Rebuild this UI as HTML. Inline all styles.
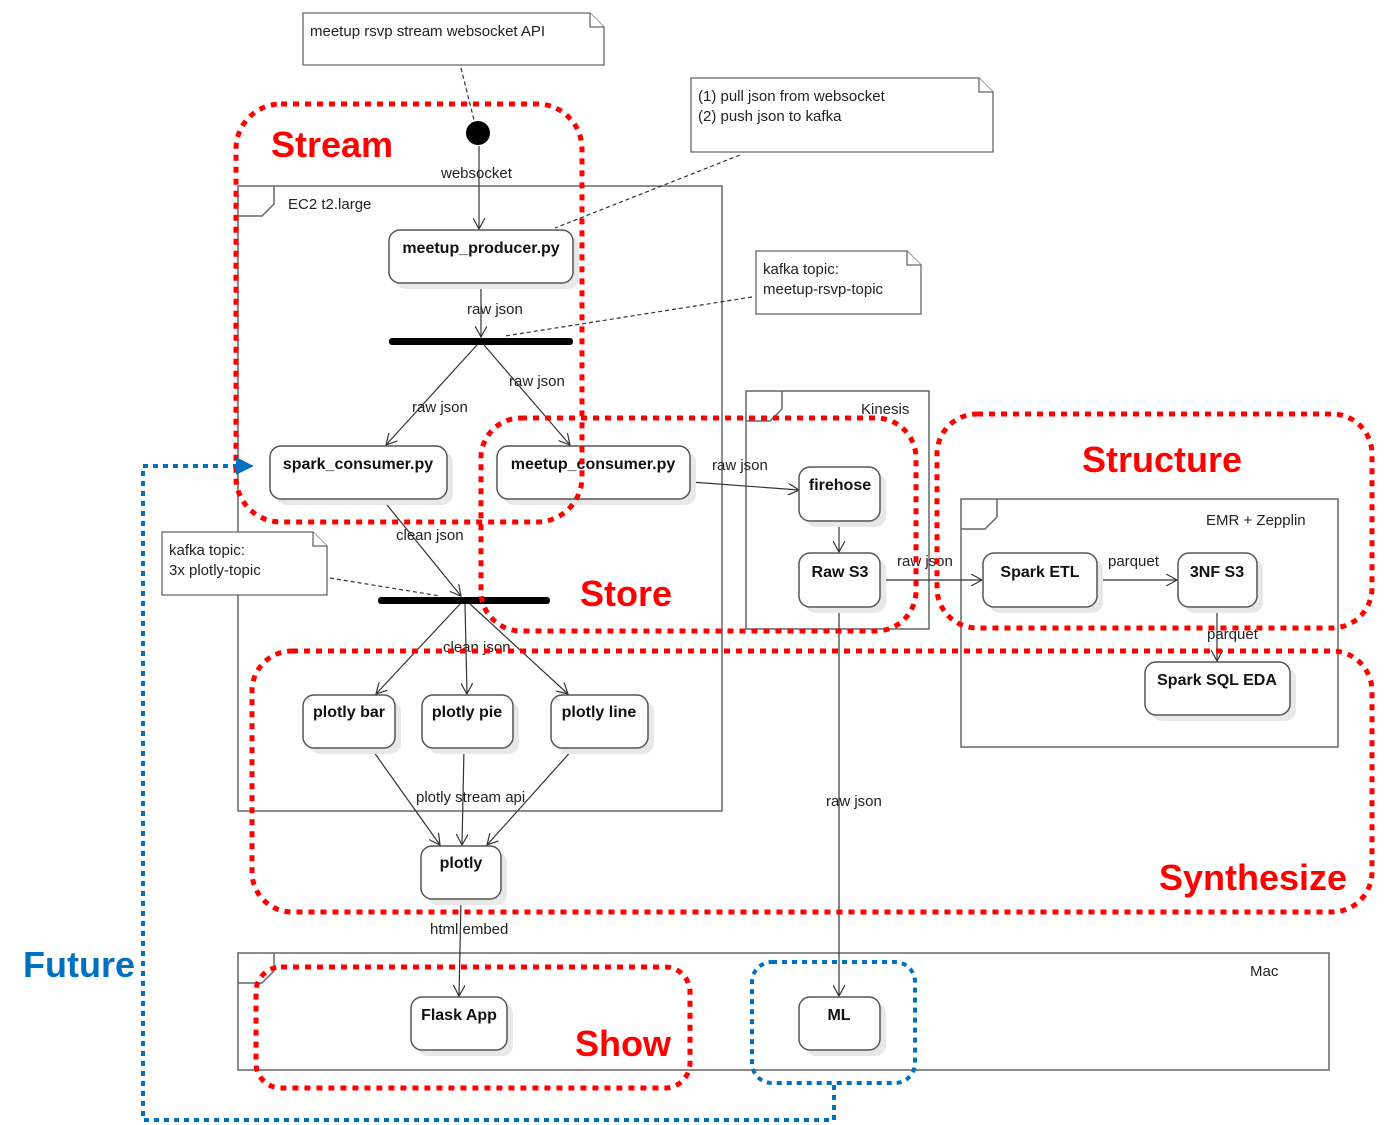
<!DOCTYPE html>
<html><head><style>body{margin:0;background:#fff}svg{display:block}</style></head><body>
<svg width="1394" height="1125" viewBox="0 0 1394 1125" xmlns="http://www.w3.org/2000/svg" font-family="Liberation Sans, Arial, sans-serif">
<defs>
<marker id="a" viewBox="0 0 12 12" refX="11" refY="6" markerWidth="12" markerHeight="12" markerUnits="userSpaceOnUse" orient="auto"><path d="M0,0 L11,6 L0,12" fill="none" stroke="#333" stroke-width="1.2"/></marker>
<marker id="b" viewBox="0 0 10 10" refX="9" refY="5" markerWidth="18" markerHeight="18" markerUnits="userSpaceOnUse" orient="auto"><path d="M0,0 L10,5 L0,10 z" fill="#0070c0"/></marker>
</defs>
<g fill="none" stroke="#666" stroke-width="1.5">
<rect x="238" y="186" width="484" height="625"/><path d="M238,216 h24 l12,-12 v-18"/>
<rect x="746" y="391" width="183" height="238"/><path d="M746,421 h24 l12,-12 v-18"/>
<rect x="961" y="499" width="377" height="248"/><path d="M961,529 h24 l12,-12 v-18"/>
<rect x="238" y="953" width="1091" height="117"/><path d="M238,983 h24 l12,-12 v-18"/>
</g>
<g fill="#fff" stroke="#666" stroke-width="1.3">
<path d="M303,13 H590 L604,27 V65 H303 Z"/><path d="M590,13 V27 H604"/>
<path d="M691,78 H979 L993,92 V152 H691 Z"/><path d="M979,78 V92 H993"/>
<path d="M756,251 H907 L921,265 V314 H756 Z"/><path d="M907,251 V265 H921"/>
<path d="M162,532 H313 L327,546 V595 H162 Z"/><path d="M313,532 V546 H327"/>
</g>
<g font-size="15" fill="#222">
<text x="310" y="36">meetup rsvp stream websocket API</text>
<text x="698" y="101">(1) pull json from websocket</text>
<text x="698" y="121">(2) push json to kafka</text>
<text x="763" y="274">kafka topic:</text><text x="763" y="294">meetup-rsvp-topic</text>
<text x="169" y="555">kafka topic:</text><text x="169" y="575">3x plotly-topic</text>
<text x="288" y="209">EC2 t2.large</text>
<text x="861" y="414">Kinesis</text>
<text x="1206" y="525">EMR + Zepplin</text>
<text x="1250" y="976">Mac</text>
</g>
<g fill="none" stroke="#333" stroke-width="1.2" stroke-dasharray="4,3">
<path d="M461,68 L474,120"/><path d="M740,155 L555,228"/><path d="M752,297 L505,336"/><path d="M330,578 L440,596"/>
</g>
<circle cx="478" cy="133" r="12" fill="#000"/>
<rect x="389" y="338" width="184" height="7" rx="3" fill="#000"/>
<rect x="378" y="597" width="172" height="7" rx="3" fill="#000"/>
<g fill="none" stroke="#333" stroke-width="1.2" marker-end="url(#a)">
<path d="M479,146 V229"/><path d="M481,284 V337"/>
<path d="M477,345 L386,445"/><path d="M484,345 L570,445"/>
<path d="M691,482 L799,490"/><path d="M839,522 V552"/>
<path d="M880,580 H982"/><path d="M1097,580 H1177"/><path d="M1217,608 V661"/>
<path d="M383,500 L461,596"/>
<path d="M460,604 L376,694"/><path d="M465,604 L467,694"/><path d="M470,604 L568,694"/>
<path d="M371,748 L440,845"/><path d="M464,748 L462,845"/><path d="M574,748 L487,845"/>
<path d="M461,900 L459,996"/><path d="M839,608 V996"/>
</g>
<g font-size="15" fill="#222">
<text x="441" y="178">websocket</text><text x="467" y="314">raw json</text>
<text x="412" y="412">raw json</text><text x="509" y="386">raw json</text>
<text x="712" y="470">raw json</text><text x="897" y="566">raw json</text>
<text x="1108" y="566">parquet</text><text x="1207" y="639">parquet</text>
<text x="396" y="540">clean json</text><text x="443" y="652">clean json</text>
<text x="416" y="802">plotly stream api</text><text x="826" y="806">raw json</text>
<text x="430" y="934">html embed</text>
</g>
<g>
<g fill="#e8e8e8">
<rect x="395" y="236" width="184" height="53" rx="11"/><rect x="276" y="452" width="177" height="53" rx="11"/>
<rect x="503" y="452" width="193" height="53" rx="11"/><rect x="805" y="473" width="81" height="54" rx="11"/>
<rect x="805" y="559" width="81" height="54" rx="11"/><rect x="989" y="559" width="114" height="54" rx="11"/>
<rect x="1184" y="559" width="79" height="54" rx="11"/><rect x="1151" y="668" width="145" height="53" rx="11"/>
<rect x="309" y="701" width="92" height="53" rx="11"/><rect x="428" y="701" width="91" height="53" rx="11"/>
<rect x="557" y="701" width="97" height="53" rx="11"/><rect x="427" y="852" width="80" height="53" rx="11"/>
<rect x="417" y="1003" width="96" height="53" rx="11"/><rect x="805" y="1003" width="81" height="53" rx="11"/>
</g>
<g fill="#fff" stroke="#555" stroke-width="1.5">
<rect x="389" y="230" width="184" height="53" rx="11"/><rect x="270" y="446" width="177" height="53" rx="11"/>
<rect x="497" y="446" width="193" height="53" rx="11"/><rect x="799" y="467" width="81" height="54" rx="11"/>
<rect x="799" y="553" width="81" height="54" rx="11"/><rect x="983" y="553" width="114" height="54" rx="11"/>
<rect x="1178" y="553" width="79" height="54" rx="11"/><rect x="1145" y="662" width="145" height="53" rx="11"/>
<rect x="303" y="695" width="92" height="53" rx="11"/><rect x="422" y="695" width="91" height="53" rx="11"/>
<rect x="551" y="695" width="97" height="53" rx="11"/><rect x="421" y="846" width="80" height="53" rx="11"/>
<rect x="411" y="997" width="96" height="53" rx="11"/><rect x="799" y="997" width="81" height="53" rx="11"/>
</g>
<g font-size="16" font-weight="bold" fill="#111" text-anchor="middle">
<text x="481" y="253">meetup_producer.py</text><text x="358" y="469">spark_consumer.py</text>
<text x="593" y="469">meetup_consumer.py</text><text x="840" y="490">firehose</text>
<text x="840" y="577">Raw S3</text><text x="1040" y="577">Spark ETL</text>
<text x="1217" y="577">3NF S3</text><text x="1217" y="685">Spark SQL EDA</text>
<text x="349" y="717">plotly bar</text><text x="467" y="717">plotly pie</text>
<text x="599" y="717">plotly line</text><text x="461" y="868">plotly</text>
<text x="459" y="1020">Flask App</text><text x="839" y="1020">ML</text>
</g>
</g>
<g fill="none" stroke="#f00" stroke-width="5" stroke-dasharray="6,6">
<rect x="236" y="104" width="346" height="418" rx="45"/>
<rect x="481" y="418" width="435" height="213" rx="40"/>
<rect x="937" y="414" width="435" height="214" rx="40"/>
<rect x="252" y="651" width="1120" height="261" rx="40"/>
<rect x="256" y="967" width="434" height="121" rx="25"/>
</g>
<g fill="none" stroke="#0070c0" stroke-width="4" stroke-dasharray="5,5">
<rect x="752" y="962" width="163" height="121" rx="20"/>
<path d="M834,1085 V1120 H143 V466 H252" marker-end="url(#b)"/>
</g>
<g font-size="36" font-weight="bold" fill="#f00">
<text x="271" y="157">Stream</text><text x="580" y="606">Store</text>
<text x="1082" y="472">Structure</text><text x="1159" y="890">Synthesize</text>
<text x="575" y="1056">Show</text>
</g>
<text x="23" y="977" font-size="36" font-weight="bold" fill="#0070c0">Future</text>
</svg>
</body></html>
